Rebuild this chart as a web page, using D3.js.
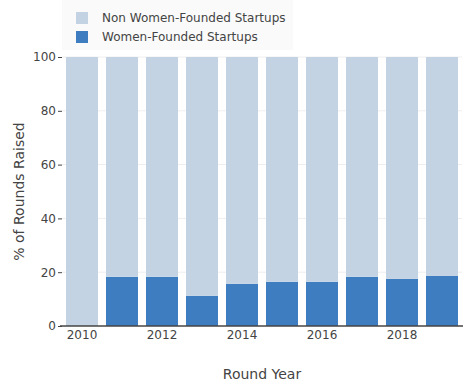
<!DOCTYPE html>
<html>
<head>
<meta charset="utf-8">
<script src="https://cdn.jsdelivr.net/npm/d3@7"></script>
<style>
	body { margin: 0; background: #fff; }
	svg text { font-family: "DejaVu Sans", Verdana, sans-serif; fill: #444; }
</style>
</head>
<body>
<svg id="chart" width="473" height="391"></svg>
<script>
var years = [2010, 2011, 2012, 2013, 2014, 2015, 2016, 2017, 2018, 2019];
var womenFounded = [0, 18.3, 18.3, 11.2, 15.7, 16.4, 16.4, 18.3, 17.5, 18.6];
var nonWomenFounded = womenFounded.map(function(v) { return 100 - v; });
var yTicks = [0, 20, 40, 60, 80, 100];
var xTickYears = [2010, 2012, 2014, 2016, 2018];
var seriesNames = ['Non Women-Founded Startups', 'Women-Founded Startups'];
var seriesColors = ['#c3d3e4', '#3e7ec0'];

var margin = { left: 62, right: 11, top: 57, bottom: 65 };
var width = 473 - margin.left - margin.right;
var height = 391 - margin.top - margin.bottom;

var svg = d3.select('#chart');
var chart = svg.append('g')
	.attr('transform', 'translate(' + margin.left + ',' + margin.top + ')');

var x = d3.scaleBand()
	.domain(years)
	.range([0, width])
	.paddingInner(0.2)
	.paddingOuter(0.1);
var y = d3.scaleLinear()
	.domain([0, 100])
	.range([height, 0]);

// grid
chart.append('g')
	.attr('class', 'grid')
	.selectAll('line')
	.data(yTicks.slice(1))
	.enter().append('line')
		.attr('x1', 0)
		.attr('x2', width)
		.attr('y1', function(d) { return y(d); })
		.attr('y2', function(d) { return y(d); })
		.attr('stroke', '#eee')
		.attr('stroke-width', 1);

// stacked bars
var rows = years.map(function(yr, i) {
	return { year: yr, women: womenFounded[i], non: nonWomenFounded[i] };
});
var stack = d3.stack().keys(['women', 'non'])(rows);
var keyColor = { women: seriesColors[1], non: seriesColors[0] };

chart.append('g')
	.selectAll('g')
	.data(stack)
	.enter().append('g')
		.attr('fill', function(s) { return keyColor[s.key]; })
	.selectAll('rect')
	.data(function(s) { return s; })
	.enter().append('rect')
		.attr('x', function(d) { return x(d.data.year); })
		.attr('width', x.bandwidth())
		.attr('y', function(d) { return y(d[1]); })
		.attr('height', function(d) { return y(d[0]) - y(d[1]); });

// y axis
var yAxis = d3.axisLeft(y)
	.tickValues(yTicks)
	.tickSize(4)
	.tickPadding(2);
var gy = chart.append('g').call(yAxis);
gy.select('.domain').remove();
gy.selectAll('line').attr('stroke', '#444').attr('stroke-width', 1);
gy.selectAll('text')
	.style('font-size', '12px')
	.attr('fill', '#444');

// x axis
var xAxis = d3.axisBottom(x)
	.tickValues(xTickYears)
	.tickSize(0)
	.tickPadding(4);
var gx = chart.append('g')
	.attr('transform', 'translate(0,' + height + ')')
	.call(xAxis);
gx.select('.domain').remove();
gx.selectAll('text')
	.style('font-size', '12px')
	.attr('fill', '#444');

// zero line
chart.append('line')
	.attr('x1', -2)
	.attr('x2', width + 1)
	.attr('y1', y(0))
	.attr('y2', y(0))
	.attr('stroke', '#444')
	.attr('stroke-width', 1.5);

// axis titles
svg.append('text')
	.attr('x', margin.left + width / 2)
	.attr('y', 379)
	.attr('text-anchor', 'middle')
	.style('font-size', '14px')
	.text('Round Year');
svg.append('text')
	.attr('transform', 'translate(24,' + (margin.top + height / 2) + ') rotate(-90)')
	.attr('text-anchor', 'middle')
	.style('font-size', '14px')
	.text('% of Rounds Raised');

// legend
var legend = svg.append('g').attr('class', 'legend');
legend.append('rect')
	.attr('x', 62)
	.attr('y', 0)
	.attr('width', 231)
	.attr('height', 50)
	.attr('fill', '#fafafa');
var items = legend.selectAll('g.item')
	.data(seriesNames)
	.enter().append('g')
		.attr('class', 'item')
		.attr('transform', function(d, i) { return 'translate(76,' + (18 + i * 19) + ')'; });
items.append('rect')
	.attr('x', 0)
	.attr('y', -6)
	.attr('width', 12)
	.attr('height', 12)
	.attr('fill', function(d, i) { return seriesColors[i]; });
items.append('text')
	.attr('x', 26)
	.attr('dy', '0.35em')
	.style('font-size', '12px')
	.text(function(d) { return d; });
</script>
</body>
</html>
